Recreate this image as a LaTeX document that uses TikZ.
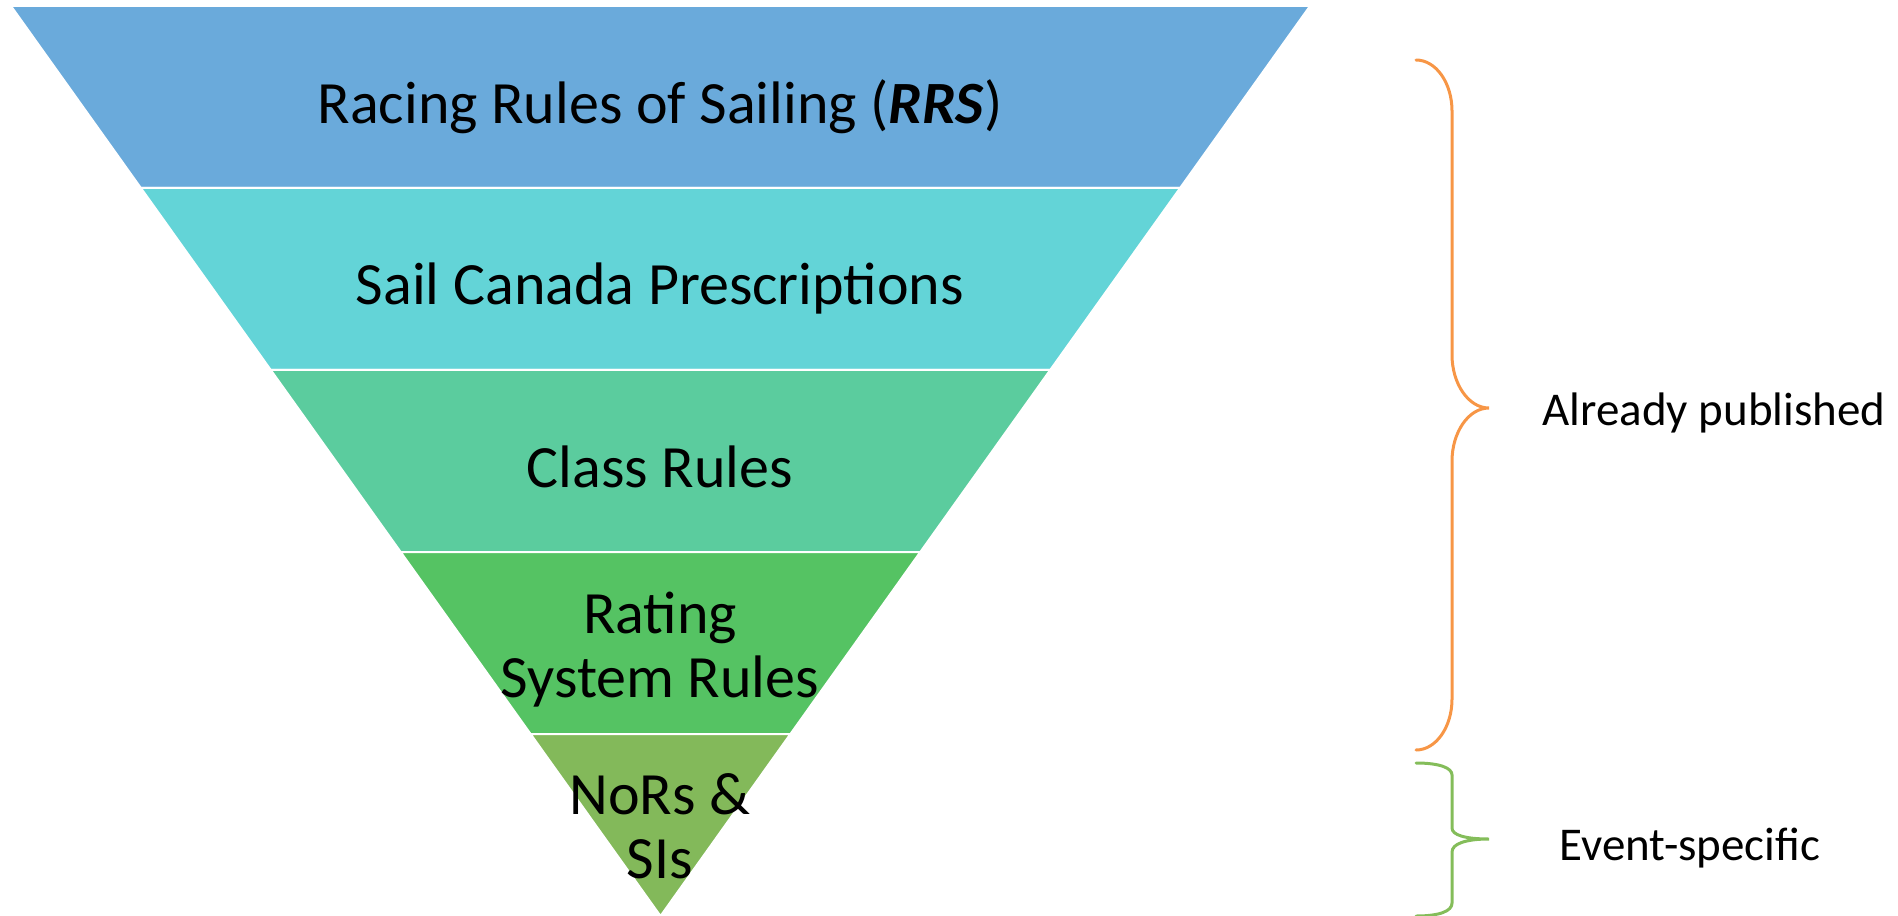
\documentclass[tikz,border=0pt]{standalone}
\usepackage{fontspec}
\setmainfont{Carlito}
\usepackage{xcolor}
\usetikzlibrary{positioning, calc}

\definecolor{rrsblue}{HTML}{6AAADB}
\definecolor{sailteal}{HTML}{63D4D7}
\definecolor{classgreen}{HTML}{5BCC9E}
\definecolor{ratinggreen}{HTML}{55C363}
\definecolor{norsgreen}{HTML}{83B95A}
\definecolor{braceorange}{HTML}{F79646}
\definecolor{bracegreen}{HTML}{84BD5A}

\begin{document}
\begin{tikzpicture}[
  x=0.5pt, y=-0.5pt,
  band/.style={draw=white, line width=1pt},
  tier/.style={anchor=base, align=center, inner sep=0pt, font=\fontsize{30}{31.7}\selectfont},
  sidenote/.style={anchor=base west, inner sep=0pt, font=\fontsize{23.5}{28}\selectfont},
  brace/.style={line width=1.5pt, line cap=round}
]
\useasboundingbox (0,0) rectangle (1898,915);

% Funnel corners
\coordinate (tl) at (11,6);
\coordinate (tr) at (1310,6);
\coordinate (apex) at (660.5,916);

% Bands
\foreach \top/\bot/\col in {0/0.2/rrsblue, 0.2/0.4/sailteal, 0.4/0.6/classgreen, 0.6/0.8/ratinggreen}
  \path[band, fill=\col] ($(tl)!\top!(apex)$) -- ($(tl)!\bot!(apex)$)
    -- ($(tr)!\bot!(apex)$) -- ($(tr)!\top!(apex)$) -- cycle;
\path[band, fill=norsgreen] ($(tl)!0.8!(apex)$) -- (apex) -- ($(tr)!0.8!(apex)$) -- cycle;

% Nodes (multi-line ones sit on their last baseline)
\node[tier] (rrs) at (660,123) {Racing Rules of Sailing (\textbf{\textit{RRS}})};
\node[tier] (prescr) at (660,304) {Sail Canada Prescriptions};
\node[tier] (classr) at (660,487) {Class Rules};
\node[tier] (rating) at (660,697) {Rating\\System Rules};
\node[tier] (nors) at (660,878) {NoRs \&\\SIs};

\node[sidenote] (published) at (1542,425) {Already published};
\node[sidenote] (eventsp) at (1559,860) {Event-specific};

% Braces
\draw[brace, braceorange] (1416,60) .. controls (1436,60) and (1452,83) .. (1452,111)
  -- (1452,355) .. controls (1452,383) and (1468,408) .. (1489,408)
  .. controls (1468,408) and (1452,433) .. (1452,461)
  -- (1452,699) .. controls (1452,727) and (1436,750) .. (1416,750);
\draw[brace, bracegreen] (1416,763) .. controls (1440,763) and (1452,768) .. (1452,775)
  -- (1452,828) .. controls (1452,835) and (1465,839) .. (1489,839)
  .. controls (1465,839) and (1452,844) .. (1452,852)
  -- (1452,903) .. controls (1452,911) and (1440,916) .. (1416,916);

\end{tikzpicture}
\end{document}
